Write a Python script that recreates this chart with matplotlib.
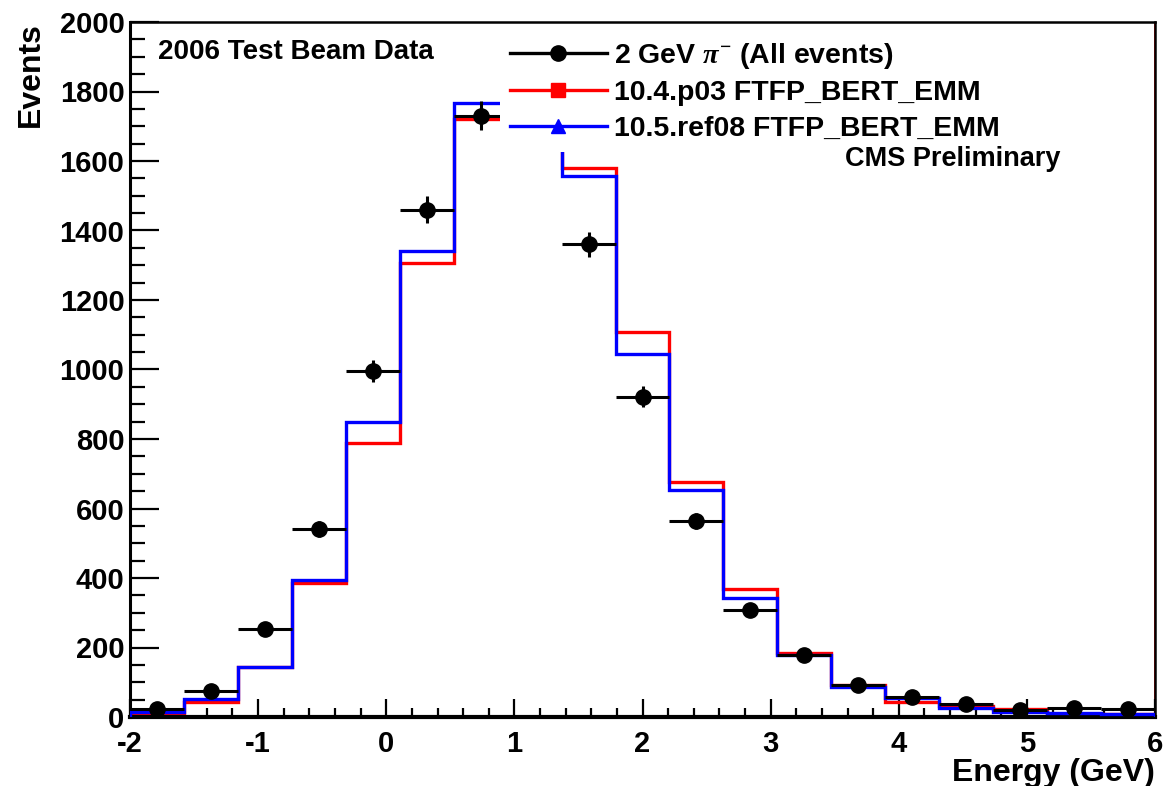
from __future__ import annotations

import matplotlib

matplotlib.use("Agg")
import matplotlib.pyplot as plt
import numpy as np
from matplotlib.lines import Line2D
from matplotlib.ticker import MultipleLocator

# 19 equal bins between -2 and 6 GeV
X_MIN, X_MAX, N_BINS = -2.0, 6.0, 19

data_counts = [22, 75, 253, 540, 995, 1460, 1730, 1820, 1360, 922, 564, 308, 178, 92, 58, 37, 20, 26, 23]
p03_counts = [11, 43, 144, 386, 789, 1306, 1720, 1860, 1580, 1108, 676, 368, 184, 92, 43, 32, 23, 9, 8]
ref08_counts = [14, 52, 145, 394, 848, 1341, 1767, 1880, 1557, 1045, 653, 342, 178, 86, 55, 26, 15, 12, 9]

labels = [
    r"2 GeV $\pi^{-}$ (All events)",
    "10.4.p03 FTFP_BERT_EMM",
    "10.5.ref08 FTFP_BERT_EMM",
]

RED = "#ff0000"
BLUE = "#0000ff"

plt.rcParams.update(
    {
        "font.family": ["Liberation Sans", "DejaVu Sans"],
        "font.weight": "bold",
        "axes.unicode_minus": False,
        "mathtext.fontset": "custom",
        "mathtext.rm": "Liberation Serif",
        "mathtext.it": "Liberation Serif:italic",
    }
)

edges = np.linspace(X_MIN, X_MAX, N_BINS + 1)
centers = 0.5 * (edges[:-1] + edges[1:])
half_w = 0.5 * (edges[1] - edges[0])

fig = plt.figure(figsize=(11.65, 7.86), dpi=100)
ax = fig.add_axes([130 / 1165, 69 / 786, 1025 / 1165, 695 / 786])

ax.axhline(0, color=RED, lw=1.5, zorder=1)
ax.axvline(X_MAX, color=RED, lw=2.0, zorder=1)
ax.stairs(p03_counts, edges, color=RED, lw=2.4, zorder=2)
ax.stairs(ref08_counts, edges, color=BLUE, lw=2.4, zorder=3)

vals = np.array(data_counts, dtype=float)
ax.errorbar(
    centers,
    vals,
    xerr=half_w,
    yerr=np.sqrt(vals),
    fmt="o",
    color="black",
    ms=11,
    elinewidth=2.2,
    capsize=0,
    zorder=4,
)

ax.set_xlim(X_MIN, X_MAX)
ax.set_ylim(0, 2000)
ax.xaxis.set_major_locator(MultipleLocator(1))
ax.xaxis.set_minor_locator(MultipleLocator(0.2))
ax.yaxis.set_major_locator(MultipleLocator(200))
ax.yaxis.set_minor_locator(MultipleLocator(50))
ax.tick_params(axis="x", which="major", direction="in", length=13, width=1.6, labelsize=21, pad=9)
ax.tick_params(axis="x", which="minor", direction="in", length=6.5, width=1.6)
ax.tick_params(axis="y", which="major", direction="in", length=21, width=1.6, labelsize=21, pad=4)
ax.tick_params(axis="y", which="minor", direction="in", length=10.5, width=1.6)
for lab in ax.get_xticklabels() + ax.get_yticklabels():
    lab.set_fontweight("bold")

ax.spines["left"].set_linewidth(2.2)
ax.spines["bottom"].set_linewidth(3.0)
ax.spines["top"].set_linewidth(1.8)
ax.spines["right"].set_linewidth(1.8)

ax.set_xlabel("Energy (GeV)", fontsize=23, fontweight="bold", loc="right", labelpad=0)
ax.set_ylabel("Events", fontsize=23, fontweight="bold", loc="top", labelpad=10)

ax.text(0.027, 0.957, "2006 Test Beam Data", transform=ax.transAxes,
        fontsize=20, fontweight="bold", va="center", ha="left")
ax.text(0.908, 0.803, "CMS Preliminary", transform=ax.transAxes,
        fontsize=19.5, fontweight="bold", va="center", ha="right", zorder=12)

handles = [
    Line2D([0], [0], color="black", lw=2.4, marker="o", ms=11),
    Line2D([0], [0], color=RED, lw=2.4, marker="s", ms=10),
    Line2D([0], [0], color=BLUE, lw=2.4, marker="^", ms=10),
]
leg = ax.legend(
    handles,
    labels,
    loc="upper left",
    bbox_to_anchor=(0.361, 0.987),
    borderaxespad=0,
    borderpad=0.35,
    frameon=True,
    fancybox=False,
    framealpha=1,
    facecolor="white",
    edgecolor="none",
    fontsize=20.5,
    handlelength=3.4,
    handletextpad=0.25,
    labelspacing=0.33,
)
for t in leg.get_texts():
    t.set_fontweight("bold")
leg.set_zorder(10)

fig.savefig("out.png", dpi=100, facecolor="white")
